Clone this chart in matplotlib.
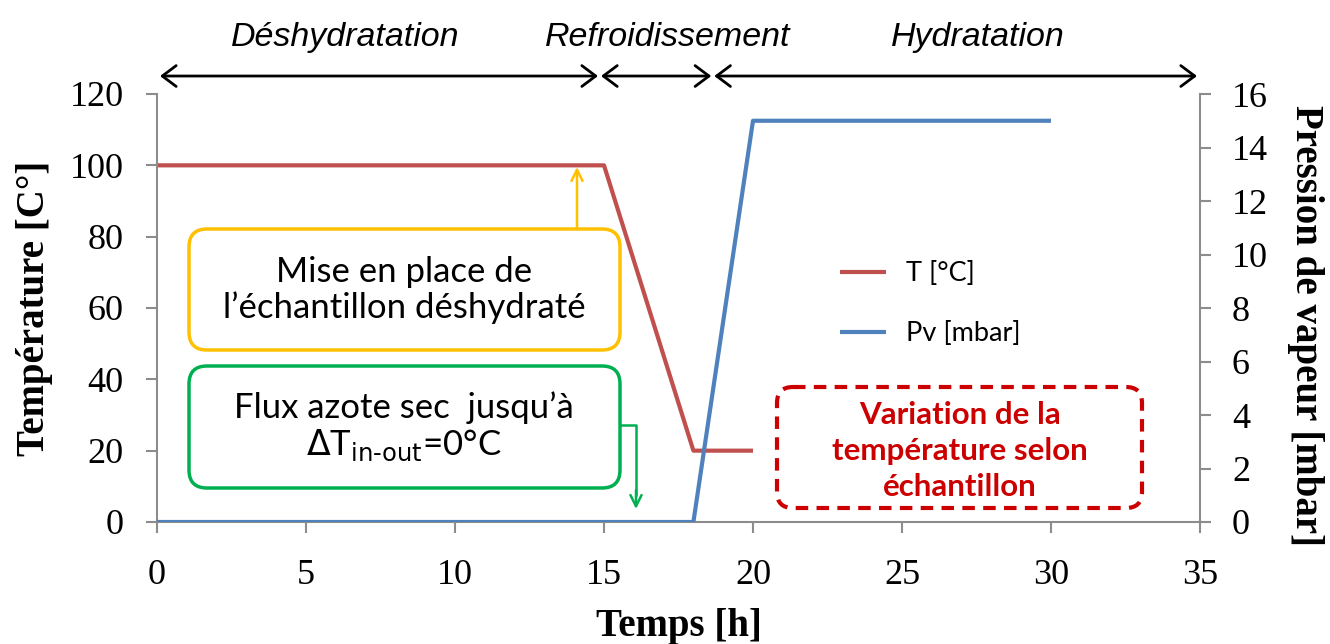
import numpy as np
import matplotlib.pyplot as plt
from matplotlib.patches import FancyBboxPatch

# -----------------------------
# Données
# -----------------------------
t_temp = [0, 15, 18, 20]
temp = [100, 100, 20, 20]

t_pv = [0, 18, 20, 30]
pv = [0, 0, 15, 15]

x_ticks = [0, 5, 10, 15, 20, 25, 30, 35]
y_ticks_T = [0, 20, 40, 60, 80, 100, 120]
y_ticks_P = [0, 2, 4, 6, 8, 10, 12, 14, 16]

phases = ["Déshydratation", "Refroidissement", "Hydratation"]
phase_bounds = [(0.1, 14.8), (14.9, 18.6), (18.7, 34.9)]
phase_label_x = [6.3, 17.15, 27.55]

# -----------------------------
# Styles
# -----------------------------
red = "#C0504D"
blue = "#4F81BD"
grey = "#8C8C8C"
serif = ["Liberation Serif", "DejaVu Serif"]
narrow = ["Liberation Sans", "DejaVu Sans"]
sans = ["Lato", "DejaVu Sans"]

fig = plt.figure(figsize=(13.3, 6.44), dpi=100)
ax = fig.add_axes([157 / 1330, 1 - 522 / 644, 1043 / 1330, 428 / 644])
ax2 = ax.twinx()

l1, = ax.plot(t_temp, temp, color=red, lw=3, solid_capstyle="butt")
l2, = ax2.plot(t_pv, pv, color=blue, lw=3, solid_capstyle="butt")

ax.set_xlim(0, 35)
ax.set_ylim(0, 120)
ax2.set_ylim(0, 16)
ax.set_xticks(x_ticks)
ax.set_yticks(y_ticks_T)
ax2.set_yticks(y_ticks_P)

for a in (ax, ax2):
    a.spines["top"].set_visible(False)
    for s in ("left", "right", "bottom"):
        a.spines[s].set_color(grey)
        a.spines[s].set_linewidth(1.5)
    for lab in a.get_xticklabels() + a.get_yticklabels():
        lab.set_family(serif)
        lab.set_fontsize(26)

ax.spines["right"].set_visible(False)
ax2.spines["left"].set_visible(False)
ax2.spines["bottom"].set_visible(False)

ax.tick_params(axis="x", direction="out", length=8, width=1.5, color=grey, pad=19)
ax.tick_params(axis="y", direction="out", length=8, width=1.5, color=grey, pad=16)
ax2.tick_params(axis="y", direction="out", length=8, width=1.5, color=grey, pad=15)

# titres des axes
ax.text(-0.117, 0.5, "Température [C°]", transform=ax.transAxes, rotation=90,
        ha="center", va="center", family=serif, fontsize=28, fontweight="bold")
ax.text(1.101, 0.458, "Pression de vapeur [mbar]", transform=ax.transAxes, rotation=-90,
        ha="center", va="center", family=serif, fontsize=28, fontweight="bold")
ax.text(0.5, -0.245, "Temps [h]", transform=ax.transAxes,
        ha="center", va="center", family=serif, fontsize=28, fontweight="bold")

# -----------------------------
# Phases (flèches du haut)
# -----------------------------
for (x0, x1) in phase_bounds:
    ax.annotate("", xy=(x1, 1.042), xytext=(x0, 1.042),
                xycoords=("data", "axes fraction"), textcoords=("data", "axes fraction"),
                annotation_clip=False,
                arrowprops=dict(arrowstyle="<->,head_length=1.0,head_width=0.75",
                                lw=2, color="black", shrinkA=0, shrinkB=0))

for name, xp in zip(phases, phase_label_x):
    ax.text(xp, 1.133, name, transform=ax.get_xaxis_transform(), ha="center", va="center",
            family=narrow, style="italic", fontsize=24.5)

# -----------------------------
# Encadrés (coordonnées en pixels)
# -----------------------------
ov = fig.add_axes([0, 0, 1, 1])
ov.set_xlim(0, 1330)
ov.set_ylim(644, 0)
ov.axis("off")
ov.patch.set_alpha(0)

yellow = "#FFC000"
green = "#00B050"
dred = "#CC0000"

ov.add_patch(FancyBboxPatch((189, 229), 431, 121, boxstyle="round,pad=0,rounding_size=18",
                            fc="white", ec=yellow, lw=2.5))
ov.text(404, 290, "Mise en place de\nl’échantillon déshydraté", ha="center", va="center",
        family=sans, fontsize=25, linespacing=1.15)
ov.annotate("", xy=(577, 167), xytext=(577, 229),
            arrowprops=dict(arrowstyle="->,head_length=0.8,head_width=0.4", lw=1.8,
                            color=yellow, shrinkA=0, shrinkB=0))

ov.add_patch(FancyBboxPatch((189, 366), 431, 122, boxstyle="round,pad=0,rounding_size=18",
                            fc="white", ec=green, lw=2.5))
ov.text(404, 427, "Flux azote sec  jusqu’à\n$\\Delta$T$_{\\mathrm{in\\text{-}out}}$=0°C",
        ha="center", va="center", family=sans, fontsize=25, linespacing=1.15)
ov.plot([620, 636, 636], [425, 425, 495], color=green, lw=1.8)
ov.annotate("", xy=(636, 509), xytext=(636, 490),
            arrowprops=dict(arrowstyle="->,head_length=0.8,head_width=0.4", lw=1.8,
                            color=green, shrinkA=0, shrinkB=0))

ov.add_patch(FancyBboxPatch((777, 387), 365, 121, boxstyle="round,pad=0,rounding_size=16",
                            fc="white", ec=dred, lw=3, ls=(0, (3, 2))))
ov.text(960, 451, "Variation de la\ntempérature selon\néchantillon", ha="center", va="center",
        family=sans, fontsize=22.5, fontweight="bold", color=dred, linespacing=1.35)

# légende
ov.legend([l1, l2], ["T [°C]", "Pv [mbar]"], loc="upper left",
          bbox_to_anchor=(840, 261), bbox_transform=ov.transData,
          frameon=False, prop={"family": sans, "size": 19.5},
          handlelength=1.7, handletextpad=0.75, labelspacing=1.3,
          borderpad=0, borderaxespad=0)

fig.savefig("out.png", dpi=100)
